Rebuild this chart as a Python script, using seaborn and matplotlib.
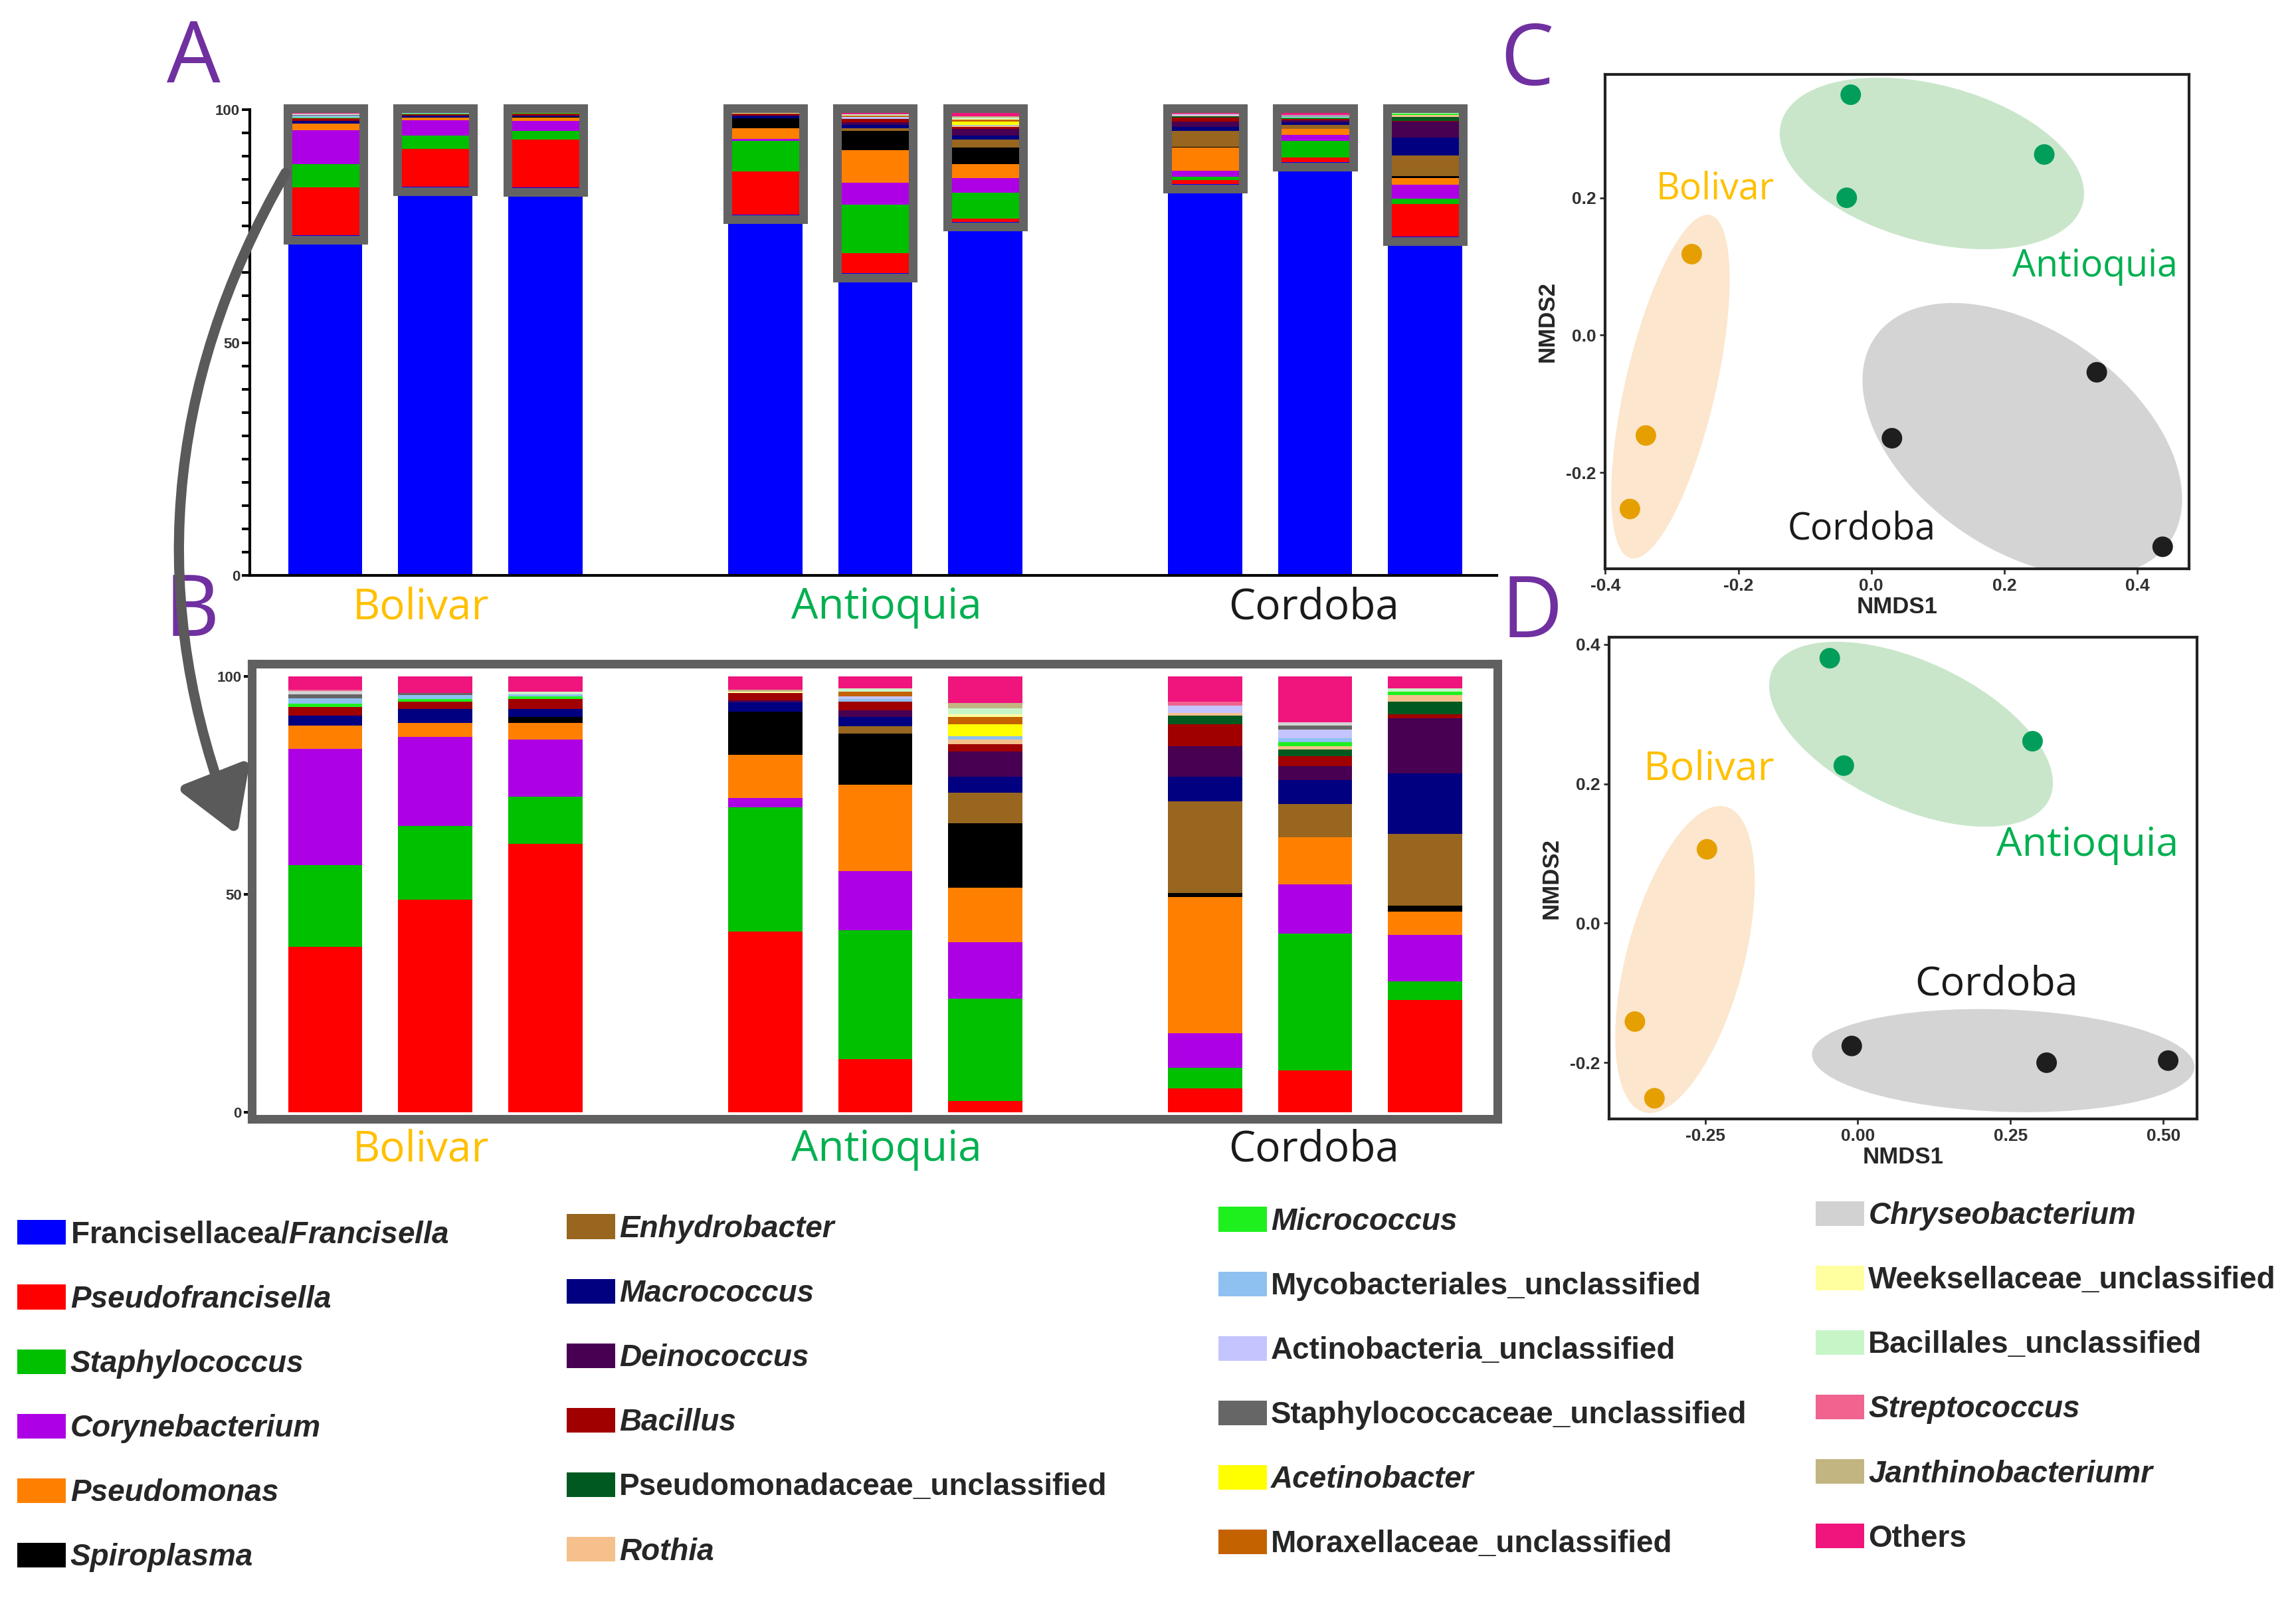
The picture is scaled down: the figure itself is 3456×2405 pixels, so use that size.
import numpy as np
import pandas as pd
import matplotlib
matplotlib.use("Agg")
import matplotlib.pyplot as plt
import seaborn as sns
from matplotlib.patches import Rectangle, Ellipse, FancyArrowPatch, Patch
from matplotlib.transforms import ScaledTranslation
from matplotlib.ticker import MultipleLocator

# ---------------- data ----------------
taxa = ["Francisellacea/Francisella", "Pseudofrancisella", "Staphylococcus", "Corynebacterium",
        "Pseudomonas", "Spiroplasma", "Enhydrobacter", "Macrococcus", "Deinococcus", "Bacillus",
        "Pseudomonadaceae_unclassified", "Rothia", "Micrococcus", "Mycobacteriales_unclassified",
        "Actinobacteria_unclassified", "Staphylococcaceae_unclassified", "Acetinobacter",
        "Moraxellaceae_unclassified", "Chryseobacterium", "Weeksellaceae_unclassified",
        "Bacillales_unclassified", "Streptococcus", "Janthinobacteriumr", "Others"]
taxa_colors = ["#0000FF", "#FF0000", "#00C000", "#AE00E4", "#FF8000", "#000000", "#98661F",
               "#000080", "#470052", "#A00000", "#005A20", "#F5C08C", "#1EF01E", "#8EC0F0",
               "#C4C4FF", "#666666", "#FFFF00", "#C46200", "#D2D2D2", "#FFFFA0", "#C8F5C8",
               "#F0648F", "#C2B582", "#F0147D"]
italic_names = [False, True, True, True, True, True, True, True, True, True, False, True,
                True, False, False, False, True, False, True, False, False, True, True, False]

regions = ["Bolivar", "Antioquia", "Cordoba"]
samples = ["Bol1", "Bol2", "Bol3", "Ant1", "Ant2", "Ant3", "Cor1", "Cor2", "Cor3"]
bar_pos = [0, 1, 2, 4, 5, 6, 8, 9, 10]

# Francisella share in each sample (%)
francisella = [73.0, 83.5, 83.3, 77.4, 64.9, 75.9, 84.0, 88.7, 72.7]

# composition without Francisella (%), Pseudofrancisella ... Others
bol_1 = [38.0, 18.7, 26.7, 5.3, 0, 0, 2.4, 0, 1.9, 0, 0, 0.8, 1.2, 0, 0.9, 0, 0, 0.8, 0, 0, 0.3, 0, 3.0]
bol_2 = [48.8, 17.0, 20.4, 3.2, 0, 0, 3.1, 0, 1.7, 0, 0, 0.7, 0.8, 0, 0.5, 0, 0, 0, 0, 0, 0, 0, 3.8]
bol_3 = [61.7, 10.8, 13.1, 3.8, 1.3, 0, 1.9, 0, 2.3, 0, 0, 0.5, 0.6, 0, 0, 0, 0, 0, 0, 0.5, 0, 0, 3.5]
ant_1 = [41.5, 28.5, 2.1, 9.9, 9.9, 0, 2.2, 0.4, 1.7, 0, 0, 0, 0, 0, 0, 0, 0, 0, 0.4, 0, 0, 0.4, 3.0]
ant_2 = [12.3, 29.6, 13.5, 19.8, 11.7, 1.7, 2.1, 1.6, 1.9, 0, 0, 0, 0.6, 0.7, 0, 0, 1.0, 0, 0, 0.8, 0, 0, 2.7]
ant_3 = [2.7, 23.5, 12.9, 12.5, 14.7, 7.1, 3.7, 5.7, 1.7, 0, 1.1, 0, 0.8, 0, 0, 2.7, 1.7, 0, 0.6, 1.3, 0, 1.2, 6.1]
cor_1 = [5.5, 4.8, 7.9, 31.2, 0.9, 21.1, 5.7, 7.0, 5.0, 1.9, 0.7, 0, 0, 1.7, 0, 0, 0, 0, 0, 0, 0.8, 0, 5.8]
cor_2 = [9.6, 31.4, 11.4, 10.8, 0, 7.6, 5.5, 3.2, 2.3, 1.5, 0.7, 1.0, 0.9, 1.9, 0.9, 0, 0, 0.8, 0, 0, 0, 0, 10.5]
cor_3 = [25.8, 4.3, 10.7, 5.3, 1.4, 16.5, 13.8, 12.6, 0.9, 2.9, 1.5, 0.9, 0, 0, 0, 0, 0, 0, 0, 0.7, 0, 0, 2.7]

# NMDS ordinations (C: all taxa, D: without Francisella)
point_region = ["Bolivar"] * 3 + ["Antioquia"] * 3 + ["Cordoba"] * 3
nmds_c_x = [-0.270, -0.339, -0.363, -0.031, 0.260, -0.037, 0.031, 0.339, 0.438]
nmds_c_y = [0.118, -0.146, -0.253, 0.350, 0.263, 0.200, -0.150, -0.054, -0.308]
nmds_d_x = [-0.247, -0.365, -0.333, -0.046, 0.286, -0.023, -0.010, 0.309, 0.508]
nmds_d_y = [0.106, -0.141, -0.251, 0.380, 0.261, 0.226, -0.176, -0.200, -0.197]

# hand drawn group ellipses: centre (data), half axes (px), angle (deg)
ell_c_x = [-0.302, 0.091, 0.227]
ell_c_y = [-0.075, 0.250, -0.152]
ell_c_a = [265, 235, 270]
ell_c_b = [68, 118, 165]
ell_c_ang = [77, -15, -35]
ell_d_x = [-0.283, 0.087, 0.238]
ell_d_y = [-0.052, 0.271, -0.197]
ell_d_a = [238, 230, 288]
ell_d_b = [88, 110, 77]
ell_d_ang = [75, -25, -2]

region_text = {"Bolivar": "#FFC000", "Antioquia": "#00B050", "Cordoba": "#1A1A1A"}
point_palette = {"Bolivar": "#E69F00", "Antioquia": "#009E5A", "Cordoba": "#1E1E1E"}
ellipse_fill = {"Bolivar": "#FCE6CD", "Antioquia": "#C9E6CA", "Cordoba": "#D4D4D4"}

# ---------------- style ----------------
sns.set_theme(style="white")
plt.rcParams["font.family"] = ["Liberation Sans", "DejaVu Sans"]
plt.rcParams["axes.unicode_minus"] = False
plt.rcParams["mathtext.fontset"] = "custom"
plt.rcParams["mathtext.it"] = "Liberation Sans:italic:bold"
plt.rcParams["mathtext.rm"] = "Liberation Sans:bold"

DPI = 200
fig = plt.figure(figsize=(17.28, 12.025), dpi=DPI)


def box(l, t, r, b):
    # layout given in pixels of a 1568 x 1091 view
    return [l / 1568, 1 - b / 1091, (r - l) / 1568, (b - t) / 1091]


ax_a = fig.add_axes(box(170.8, 74.8, 1022, 393))
ax_b = fig.add_axes(box(172, 453, 1022.5, 764))
ax_c = fig.add_axes(box(1096.3, 50.6, 1495.1, 388.3))
ax_d = fig.add_axes(box(1099, 435.1, 1500.3, 764.1))

# ---------------- A and B: stacked bars ----------------
comp_b = np.array([bol_1, bol_2, bol_3, ant_1, ant_2, ant_3, cor_1, cor_2, cor_3])
comp_a = comp_b * ((100 - np.array(francisella)) / 100)[:, None]
bar_w = 0.674

ax_a.bar(bar_pos, francisella, width=bar_w, color=taxa_colors[0], linewidth=0)
bottom_a = np.array(francisella, dtype=float)
bottom_b = np.zeros(len(bar_pos))
for k in range(comp_b.shape[1]):
    ax_a.bar(bar_pos, comp_a[:, k], bottom=bottom_a, width=bar_w, color=taxa_colors[k + 1], linewidth=0)
    ax_b.bar(bar_pos, comp_b[:, k], bottom=bottom_b, width=bar_w, color=taxa_colors[k + 1], linewidth=0)
    bottom_a += comp_a[:, k]
    bottom_b += comp_b[:, k]

# grey frames around the non-Francisella part in A
for x, f in zip(bar_pos, francisella):
    ax_a.add_patch(Rectangle((x - 0.345, f - 1.0), 0.69, 101.2 - f, fill=False,
                             edgecolor="#636363", linewidth=4.7, clip_on=False, zorder=5))

ax_a.set_xlim(-0.684, 10.65)
ax_a.set_ylim(0, 100)
for s in ["top", "right"]:
    ax_a.spines[s].set_visible(False)
for s in ["left", "bottom"]:
    ax_a.spines[s].set_color("black")
    ax_a.spines[s].set_linewidth(1.5)
ax_a.set_xticks([])
ax_a.set_yticks([0, 50, 100], labels=["0", "50", "100"], fontsize=8, fontweight="bold", color="#333333")
ax_a.yaxis.set_minor_locator(MultipleLocator(5))
ax_a.tick_params(axis="y", which="both", left=True, direction="out", length=4.5, width=1.4,
                 color="black", pad=1)

ax_b.set_xlim(-0.668, 10.656)
ax_b.set_ylim(-1.48, 103)
for s in ax_b.spines.values():
    s.set_visible(True)
    s.set_color("#606060")
    s.set_linewidth(4.7)
ax_b.set_xticks([])
ax_b.set_yticks([0, 50, 100], labels=["0", "50", "100"], fontsize=8, fontweight="bold", color="#333333")
ax_b.tick_params(axis="y", left=True, direction="out", length=4.5, width=1.4, color="black", pad=1)

label_x = [0.87, 5.1, 8.99]
for ax, ly in [(ax_a, -6.8), (ax_b, -8.5)]:
    for x, name in zip(label_x, regions):
        ax.text(x, ly, name, ha="center", va="center", fontsize=23, color=region_text[name],
                family="Open Sans", clip_on=False)

# ---------------- C and D: NMDS ----------------
nmds_panels = [
    (ax_c, nmds_c_x, nmds_c_y, ell_c_x, ell_c_y, ell_c_a, ell_c_b, ell_c_ang,
     (-0.397, 0.478), (-0.34, 0.38),
     [-0.4, -0.2, 0.0, 0.2, 0.4], ["-0.4", "-0.2", "0.0", "0.2", "0.4"],
     [-0.2, 0.0, 0.2], ["-0.2", "0.0", "0.2"],
     [(-0.235, 0.2125), (0.336, 0.10), (-0.015, -0.284)], 20),
    (ax_d, nmds_d_x, nmds_d_y, ell_d_x, ell_d_y, ell_d_a, ell_d_b, ell_d_ang,
     (-0.407, 0.555), (-0.281, 0.41),
     [-0.25, 0.0, 0.25, 0.5], ["-0.25", "0.00", "0.25", "0.50"],
     [-0.2, 0.0, 0.2, 0.4], ["-0.2", "0.0", "0.2", "0.4"],
     [(-0.244, 0.221), (0.376, 0.112), (0.227, -0.088)], 22),
]

for (ax, px, py, ex, ey, ea, eb, eang, xl, yl, xt, xtl, yt, ytl, lab_pos, lab_fs) in nmds_panels:
    for cx, cy, a, b, ang, name in zip(ex, ey, ea, eb, eang, regions):
        e = Ellipse((0, 0), 2 * a / DPI, 2 * b / DPI, angle=ang,
                    transform=fig.dpi_scale_trans + ScaledTranslation(cx, cy, ax.transData),
                    facecolor=ellipse_fill[name], edgecolor="none", zorder=1)
        ax.add_patch(e)
    df = pd.DataFrame({"NMDS1": px, "NMDS2": py, "Region": point_region})
    sns.scatterplot(data=df, x="NMDS1", y="NMDS2", hue="Region", palette=point_palette,
                    s=124, edgecolor="none", legend=False, ax=ax, zorder=3)
    for (tx, ty), name in zip(lab_pos, regions):
        ax.text(tx, ty, name, ha="center", va="center", fontsize=lab_fs,
                color=region_text[name], family="Open Sans", zorder=4)
    ax.set_xlim(*xl)
    ax.set_ylim(*yl)
    ax.set_xticks(xt, labels=xtl, fontsize=9.5, fontweight="bold", color="#303030")
    ax.set_yticks(yt, labels=ytl, fontsize=9.5, fontweight="bold", color="#303030")
    ax.tick_params(bottom=True, left=True, direction="out", length=3, width=1, color="#303030", pad=2)
    for s in ax.spines.values():
        s.set_visible(True)
        s.set_color("#222222")
        s.set_linewidth(1.5)
    ax.set_xlabel("NMDS1", fontsize=12.5, fontweight="bold", labelpad=1)
    ax.set_ylabel("NMDS2", fontsize=12.5, fontweight="bold", labelpad=4)

# ---------------- panel letters and arrow ----------------
for letter, (lx, ly) in zip("ABCD", [(132, 41), (131, 419), (1043, 43), (1046, 420)]):
    fig.text(lx / 1568, 1 - ly / 1091, letter, fontsize=46, color="#7030A0",
             family="Open Sans", ha="center", va="center")

arrow = FancyArrowPatch((195 / 1568, 1 - 118 / 1091), (162 / 1568, 1 - 570 / 1091),
                        transform=fig.transFigure, connectionstyle="arc3,rad=0.24",
                        arrowstyle="-|>,head_length=28,head_width=17", mutation_scale=1,
                        linewidth=5.5, color="#5a5a5a", shrinkA=0, shrinkB=0, zorder=10)
fig.add_artist(arrow)

# ---------------- legend (one block per column) ----------------
legend_labels = ["Francisellacea/$\\mathit{Francisella}$"] + taxa[1:]
handles = [Patch(facecolor=c, edgecolor="none") for c in taxa_colors]
col_x = [12, 387, 832, 1240]
col_top = [833, 829, 824, 820]
for c in range(4):
    idx = list(range(6 * c, 6 * c + 6))
    leg = fig.legend([handles[i] for i in idx], [legend_labels[i] for i in idx], loc="upper left",
                     bbox_to_anchor=(col_x[c] / 1568, 1 - col_top[c] / 1091), frameon=False,
                     prop={"family": "Liberation Sans", "weight": "bold", "size": 16.5},
                     handlelength=1.59, handleheight=0.87, handletextpad=0.14, labelspacing=1.15,
                     borderpad=0, borderaxespad=0)
    for t, i in zip(leg.get_texts(), idx):
        if italic_names[i]:
            t.set_style("italic")

fig.savefig("out.png", dpi=DPI)
